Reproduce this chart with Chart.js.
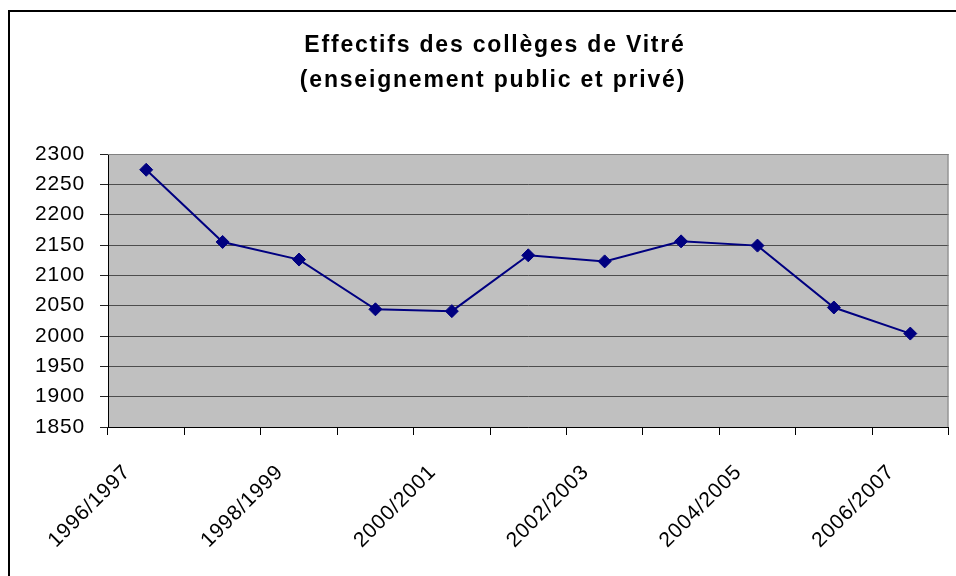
<!DOCTYPE html>
<html>
<head>
<meta charset="utf-8">
<script src="https://cdn.jsdelivr.net/npm/chart.js@4/dist/chart.umd.min.js"></script>
<style>
  html, body { margin: 0; padding: 0; background: #fff; }
  #cadre { width: 956px; height: 576px; }
</style>
</head>
<body>
<div id="cadre"><canvas id="grafica" width="956" height="576"></canvas></div>
<script>
// Années scolaires et effectifs (public + privé)
const annees = ['1996/1997', '1997/1998', '1998/1999', '1999/2000', '2000/2001', '2001/2002',
                '2002/2003', '2003/2004', '2004/2005', '2005/2006', '2006/2007'];
const effectifs = [2274, 2155, 2126, 2044, 2041, 2133, 2123, 2156, 2149, 2047, 2004];
const titre = ['Effectifs des collèges de Vitré', '(enseignement public et privé)'];
// Axe vertical
const yMin = 1850;
const yMax = 2300;
const yPas = 50;

const police = "'Liberation Sans', Arial, sans-serif";

// Fond blanc, cadre noir, zone de tracé grise
const fond = {
  id: 'fond',
  beforeDraw(chart) {
    const ctx = chart.ctx;
    const a = chart.chartArea;
    ctx.save();
    ctx.fillStyle = '#ffffff';
    ctx.fillRect(0, 0, chart.width, chart.height);
    ctx.strokeStyle = '#000000';
    ctx.lineWidth = 2;
    ctx.strokeRect(9, 11, chart.width + 20, chart.height + 20);
    ctx.fillStyle = '#c0c0c0';
    ctx.fillRect(a.left, a.top, a.right - a.left, a.bottom - a.top);
    ctx.restore();
    ctx.letterSpacing = '0.8px';
  },
  beforeDatasetsDraw(chart) {
    const ctx = chart.ctx;
    const a = chart.chartArea;
    ctx.save();
    ctx.strokeStyle = '#808080';
    ctx.lineWidth = 1;
    ctx.beginPath();
    ctx.moveTo(a.left, a.top + 0.5);
    ctx.lineTo(a.right - 0.5, a.top + 0.5);
    ctx.lineTo(a.right - 0.5, a.bottom);
    ctx.stroke();
    ctx.restore();
  }
};

// Titre sur deux lignes
const titreGraphique = {
  id: 'titreGraphique',
  afterDraw(chart) {
    const ctx = chart.ctx;
    ctx.save();
    ctx.font = 'bold 23px ' + police;
    ctx.letterSpacing = '1.8px';
    ctx.fillStyle = '#000000';
    ctx.textAlign = 'center';
    ctx.textBaseline = 'alphabetic';
    ctx.fillText(titre[0], 495, 52);
    ctx.fillText(titre[1], 493, 87);
    ctx.restore();
  }
};

new Chart(document.querySelector('#grafica'), {
  type: 'line',
  data: {
    labels: annees,
    datasets: [{
      data: effectifs,
      borderColor: '#000080',
      backgroundColor: '#000080',
      borderWidth: 2,
      tension: 0,
      pointStyle: 'rectRot',
      pointRadius: 6.5,
      pointBorderWidth: 1,
      pointBackgroundColor: '#000080',
      pointBorderColor: '#000080'
    }]
  },
  options: {
    responsive: false,
    animation: false,
    events: [],
    layout: { padding: { top: 154, left: 12, right: 6, bottom: 0 } },
    plugins: {
      legend: { display: false },
      title: { display: false },
      tooltip: { enabled: false }
    },
    scales: {
      x: {
        offset: true,
        grid: {
          offset: true,
          drawOnChartArea: false,
          drawTicks: true,
          tickLength: 8,
          color: '#000000'
        },
        border: { display: true, color: '#000000', width: 1 },
        ticks: {
          autoSkip: false,
          minRotation: 45,
          maxRotation: 45,
          padding: 25,
          labelOffset: -19,
          color: '#000000',
          font: { family: police, size: 21 },
          callback: (v, i) => (i % 2 === 0 ? annees[i] : '')
        },
        afterFit(scale) { scale.height = 149; }
      },
      y: {
        min: yMin,
        max: yMax,
        grid: {
          color: '#4d4d4d',
          lineWidth: 1,
          drawTicks: true,
          tickLength: 8,
          tickColor: '#222222'
        },
        border: { display: true, color: '#000000', width: 1 },
        ticks: {
          stepSize: yPas,
          padding: 15,
          color: '#000000',
          font: { family: police, size: 21 },
          callback: (v) => String(v)
        },
        afterFit(scale) { scale.width = 96; }
      }
    }
  },
  plugins: [fond, titreGraphique]
});
</script>
</body>
</html>
